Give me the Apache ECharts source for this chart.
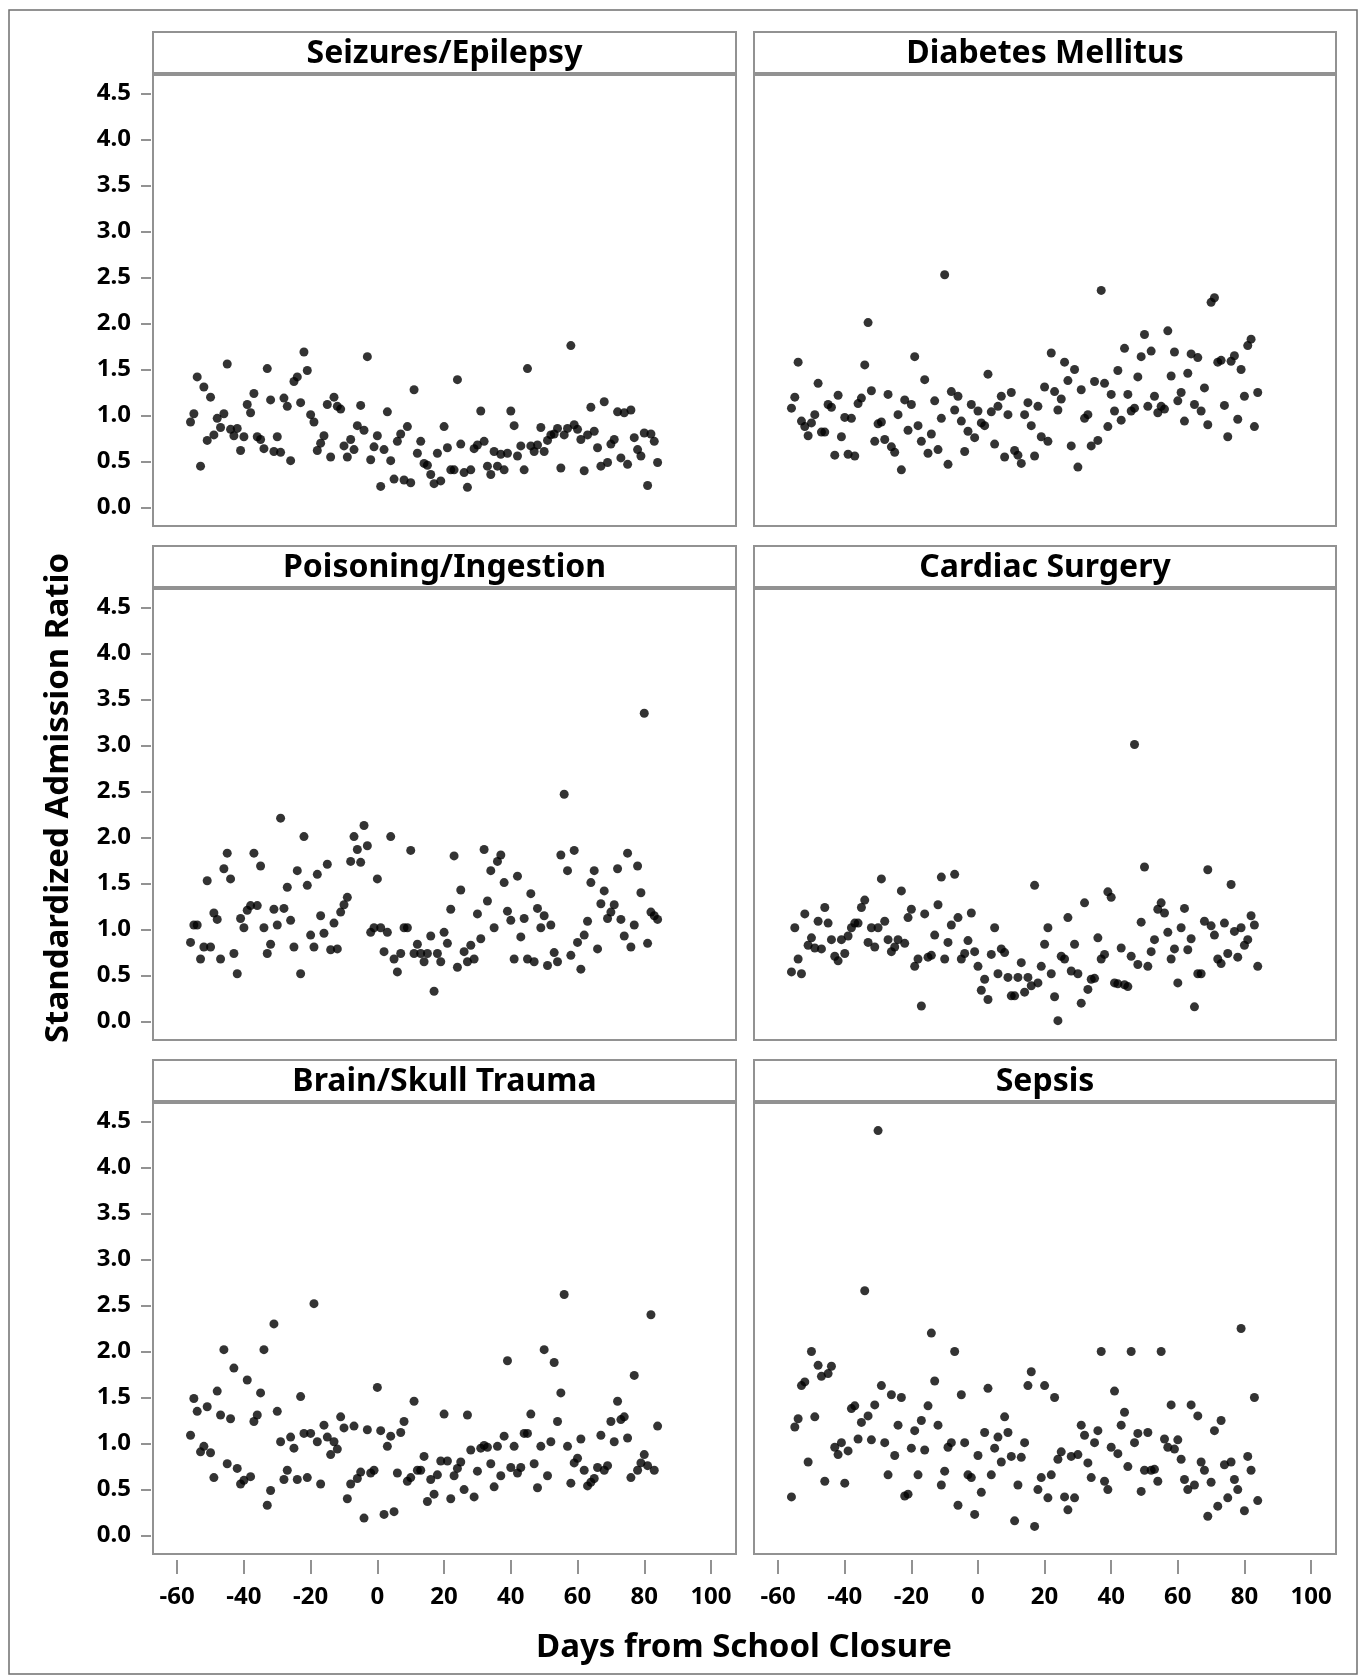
<!DOCTYPE html>
<html>
<head>
<meta charset="utf-8">
<script src="https://cdn.jsdelivr.net/npm/echarts@6/dist/echarts.min.js"></script>
<style>
  html, body { margin: 0; padding: 0; background: #fff; }
  #chart { width: 1363px; height: 1677px; }
</style>
</head>
<body>
<div id="chart"></div>
<script>
// ---- Data ----
const panelTitles = ["Seizures/Epilepsy", "Diabetes Mellitus", "Poisoning/Ingestion", "Cardiac Surgery", "Brain/Skull Trauma", "Sepsis"];
const xTicks = [-60, -40, -20, 0, 20, 40, 60, 80, 100];
const yTicks = [0, 0.5, 1, 1.5, 2, 2.5, 3, 3.5, 4, 4.5];
const xTitle = "Days from School Closure";
const yTitle = "Standardized Admission Ratio";
const firstDay = -56;

const seizures = [0.93,1.02,1.42,0.45,1.31,0.73,1.20,0.79,0.97,0.87,
  1.02,1.56,0.85,0.78,0.86,0.62,0.77,1.12,1.03,1.24,
  0.77,0.74,0.64,1.51,1.17,0.61,0.77,0.60,1.19,1.10,
  0.51,1.37,1.42,1.14,1.69,1.49,1.01,0.93,0.62,0.70,
  0.78,1.12,0.55,1.20,1.10,1.07,0.67,0.55,0.74,0.63,
  0.89,1.11,0.84,1.64,0.52,0.66,0.78,0.23,0.63,1.04,
  0.51,0.31,0.72,0.80,0.30,0.88,0.27,1.28,0.59,0.72,
  0.48,0.46,0.36,0.26,0.59,0.29,0.88,0.65,0.41,0.41,
  1.39,0.69,0.38,0.22,0.41,0.64,0.68,1.05,0.72,0.45,
  0.36,0.61,0.45,0.58,0.41,0.59,1.05,0.89,0.56,0.67,
  0.41,1.51,0.67,0.61,0.68,0.87,0.61,0.73,0.79,0.80,
  0.86,0.43,0.79,0.86,1.76,0.90,0.85,0.74,0.40,0.79,
  1.09,0.83,0.65,0.45,1.15,0.49,0.69,0.74,1.04,0.54,
  1.03,0.47,1.06,0.76,0.63,0.56,0.81,0.24,0.80,0.72,0.49];

const diabetes = [1.08,1.20,1.58,0.94,0.88,0.78,0.92,1.01,1.35,0.82,
  0.82,1.12,1.09,0.57,1.22,0.77,0.98,0.58,0.97,0.56,
  1.13,1.19,1.55,2.01,1.27,0.72,0.91,0.93,0.74,1.23,
  0.66,0.60,1.01,0.41,1.17,0.84,1.12,1.64,0.89,0.72,
  1.39,0.59,0.80,1.16,0.63,0.97,2.53,0.47,1.26,1.06,
  1.21,0.94,0.61,0.83,1.12,0.76,1.05,0.92,0.89,1.45,
  1.04,0.69,1.10,1.21,0.55,1.01,1.25,0.62,0.57,0.48,
  1.01,1.14,0.89,0.56,1.10,0.77,1.31,0.72,1.68,1.26,
  1.06,1.18,1.58,1.38,0.67,1.50,0.44,1.28,0.97,1.01,
  0.67,1.37,0.73,2.36,1.35,0.88,1.23,1.05,1.49,0.95,
  1.73,1.23,1.05,1.08,1.42,1.64,1.88,1.10,1.70,1.21,
  1.03,1.10,1.07,1.92,1.43,1.69,1.16,1.25,0.94,1.46,
  1.67,1.12,1.63,1.05,1.30,0.90,2.23,2.28,1.58,1.60,
  1.11,0.77,1.59,1.65,0.96,1.50,1.21,1.76,1.83,0.88,1.25];

const poisoning = [0.86,1.05,1.05,0.68,0.81,1.53,0.81,1.18,1.11,0.68,
  1.66,1.83,1.55,0.74,0.52,1.12,1.02,1.21,1.26,1.83,
  1.26,1.69,1.02,0.74,0.84,1.22,1.05,2.21,1.23,1.46,
  1.10,0.81,1.64,0.52,2.01,1.48,0.94,0.81,1.60,1.15,
  0.96,1.71,0.78,1.07,0.79,1.19,1.27,1.35,1.74,2.01,
  1.87,1.73,2.13,1.91,0.97,1.02,1.55,1.02,0.76,0.97,
  2.01,0.68,0.54,0.74,1.02,1.02,1.86,0.74,0.84,0.74,
  0.65,0.74,0.93,0.33,0.74,0.65,0.97,0.85,1.22,1.80,
  0.59,1.43,0.76,0.65,0.83,0.68,1.17,0.90,1.87,1.31,
  1.64,1.02,1.74,1.81,1.51,1.20,1.10,0.68,1.58,0.92,
  1.12,0.68,1.39,0.65,1.23,1.02,1.15,0.61,1.05,0.75,
  0.65,1.81,2.47,1.64,0.72,1.86,0.86,0.57,0.94,1.09,
  1.51,1.64,0.79,1.28,1.42,1.12,1.19,1.27,1.66,1.11,
  0.93,1.83,0.81,1.05,1.69,1.40,3.35,0.85,1.19,1.15,1.11];

const cardiac = [0.54,1.02,0.68,0.52,1.17,0.83,0.91,0.80,1.09,0.79,
  1.24,1.07,0.89,0.71,0.66,0.89,0.74,0.93,1.02,1.07,
  1.07,1.24,1.32,0.86,1.02,0.81,1.02,1.55,1.09,0.89,
  0.76,0.81,0.89,1.42,0.85,1.13,1.22,0.60,0.68,0.17,
  1.17,0.70,0.72,0.94,1.27,1.57,0.68,0.86,1.05,1.60,
  1.13,0.68,0.74,0.88,1.18,0.76,0.60,0.34,0.46,0.24,
  0.73,1.02,0.52,0.79,0.75,0.48,0.28,0.28,0.48,0.64,
  0.32,0.48,0.39,1.48,0.42,0.60,0.84,1.02,0.52,0.27,
  0.01,0.71,0.68,1.13,0.55,0.84,0.52,0.20,1.29,0.35,
  0.46,0.47,0.91,0.68,0.73,1.41,1.35,0.42,0.41,0.80,
  0.40,0.38,0.71,3.01,0.62,1.08,1.68,0.60,0.76,0.89,
  1.22,1.29,1.18,0.97,0.68,0.79,0.42,1.02,1.23,0.78,
  0.90,0.16,0.52,0.52,1.09,1.65,1.04,0.94,0.68,0.63,
  1.07,0.74,1.49,0.98,0.70,1.02,0.83,0.89,1.15,1.05,0.60];

const trauma = [1.09,1.49,1.35,0.91,0.97,1.40,0.90,0.63,1.57,1.31,
  2.02,0.78,1.27,1.82,0.73,0.56,0.60,1.69,0.64,1.24,
  1.31,1.55,2.02,0.33,0.49,2.30,1.35,1.02,0.61,0.71,
  1.07,0.95,0.61,1.51,1.11,0.63,1.11,2.52,1.02,0.56,
  1.20,1.07,0.88,1.02,0.94,1.29,1.17,0.40,0.56,1.19,
  0.62,0.69,0.19,1.15,0.68,0.71,1.61,1.14,0.23,0.97,
  1.08,0.26,0.68,1.12,1.24,0.59,0.63,1.46,0.71,0.71,
  0.86,0.37,0.61,0.45,0.66,0.81,1.32,0.81,0.40,0.65,
  0.73,0.80,0.50,1.31,0.93,0.42,0.70,0.95,0.98,0.96,
  0.78,0.53,0.97,0.65,1.08,1.90,0.74,0.97,0.68,0.74,
  1.11,1.11,1.32,0.78,0.52,0.97,2.02,0.65,1.02,1.88,
  1.24,1.55,2.62,0.97,0.57,0.79,0.84,1.05,0.71,0.54,
  0.58,0.62,0.74,1.09,0.71,0.76,1.24,1.02,1.46,1.26,
  1.29,1.06,0.63,1.74,0.71,0.79,0.88,0.76,2.40,0.71,1.19];

const sepsis = [0.42,1.18,1.27,1.63,1.67,0.80,2.00,1.29,1.85,1.73,
  0.59,1.76,1.84,0.96,0.88,1.01,0.57,0.92,1.38,1.41,
  1.05,1.23,2.66,1.30,1.04,1.42,4.40,1.63,1.01,0.66,
  1.53,0.87,1.20,1.50,0.43,0.45,0.95,1.14,0.66,1.25,
  0.93,1.41,2.20,1.68,1.20,0.55,0.70,0.96,1.01,2.00,
  0.33,1.53,1.01,0.66,0.63,0.23,0.87,0.47,1.12,1.60,
  0.66,0.95,1.07,0.80,1.29,1.12,0.86,0.16,0.55,0.85,
  1.01,1.63,1.78,0.10,0.50,0.63,1.63,0.41,0.66,1.50,
  0.83,0.91,0.42,0.28,0.86,0.41,0.88,1.20,1.09,0.79,
  0.63,1.01,1.14,2.00,0.59,0.50,0.96,1.57,0.89,1.20,
  1.34,0.75,2.00,1.01,1.11,0.48,0.71,1.12,0.71,0.72,
  0.59,2.00,1.05,0.96,1.42,0.94,1.04,0.83,0.61,0.50,
  1.42,0.55,1.30,0.80,0.71,0.21,0.58,1.14,0.32,1.25,
  0.77,0.41,0.80,0.61,0.50,2.25,0.27,0.86,0.71,1.50,0.38];

const panelValues = [seizures, diabetes, poisoning, cardiac, trauma, sepsis];

// ---- Layout ----
const FONT = "Noto Sans";
const frameColor = "#929292";
const colLeft = [153, 754];
const colWidth = [583, 582];
const rowTop = [75, 589, 1103];
const plotH = 451;
const headerH = 41;
const headerGap = 2;

const chart = echarts.init(document.getElementById('chart'), null, { renderer: 'canvas' });

const grids = [], xAxes = [], yAxes = [], series = [], graphics = [];

// outer figure frame
graphics.push({
  type: 'rect', silent: true, z: 0,
  shape: { x: 9, y: 10, width: 1348, height: 1664 },
  style: { fill: 'none', stroke: '#6f6f6f', lineWidth: 1.5 }
});

for (let i = 0; i < 6; i++) {
  const r = Math.floor(i / 2), c = i % 2;
  const left = colLeft[c], top = rowTop[r], w = colWidth[c];
  grids.push({
    left: left, top: top, width: w, height: plotH,
    show: true, borderColor: frameColor, borderWidth: 2, backgroundColor: 'transparent',
    containLabel: false
  });
  const bottomRow = (r === 2), leftCol = (c === 0);
  xAxes.push({
    gridIndex: i, type: 'value', min: -67.25, max: 107.5,
    position: 'bottom', offset: 6,
    axisLine: { show: false, onZero: false },
    splitLine: { show: false },
    axisTick: { show: bottomRow, customValues: xTicks, length: 14, lineStyle: { color: frameColor, width: 2 } },
    axisLabel: { show: bottomRow, customValues: xTicks, margin: 25, fontSize: 24, fontWeight: 'bold', fontFamily: FONT, color: '#000' }
  });
  yAxes.push({
    gridIndex: i, type: 'value', min: -0.2, max: 4.7,
    position: 'left', offset: 2,
    axisLine: { show: false, onZero: false },
    splitLine: { show: false },
    axisTick: { show: leftCol, customValues: yTicks, length: 10, lineStyle: { color: frameColor, width: 2 } },
    axisLabel: { show: leftCol, customValues: yTicks, margin: 20, fontSize: 24, fontWeight: 'bold', fontFamily: FONT, color: '#000',
      formatter: v => Number(v).toFixed(1) }
  });
  const vals = panelValues[i];
  series.push({
    type: 'scatter', xAxisIndex: i, yAxisIndex: i,
    symbol: 'circle', symbolSize: 9,
    itemStyle: { color: '#000' },
    silent: true, animation: false,
    data: vals.map((v, k) => [firstDay + k, v])
  });
  // header strip
  const hy = top - headerGap - headerH;
  graphics.push({
    type: 'rect', silent: true, z: 1,
    shape: { x: left, y: hy, width: w, height: headerH },
    style: { fill: '#fff', stroke: frameColor, lineWidth: 2 }
  });
  graphics.push({
    type: 'text', silent: true, z: 2,
    x: left + w / 2, y: hy + headerH / 2 + 1,
    style: { text: panelTitles[i], fill: '#000', font: 'bold 32px "' + FONT + '"', textAlign: 'center', textVerticalAlign: 'middle' }
  });
}

// axis titles
graphics.push({
  type: 'text', silent: true,
  x: 744, y: 1648,
  style: { text: xTitle, fill: '#000', font: 'bold 33px "' + FONT + '"', textAlign: 'center', textVerticalAlign: 'middle' }
});
graphics.push({
  type: 'text', silent: true,
  x: 59, y: 798, rotation: Math.PI / 2,
  style: { text: yTitle, fill: '#000', font: 'bold 33px "' + FONT + '"', textAlign: 'center', textVerticalAlign: 'middle' }
});

chart.setOption({
  animation: false,
  backgroundColor: '#fff',
  grid: grids,
  xAxis: xAxes,
  yAxis: yAxes,
  series: series,
  graphic: graphics
});
</script>
</body>
</html>
